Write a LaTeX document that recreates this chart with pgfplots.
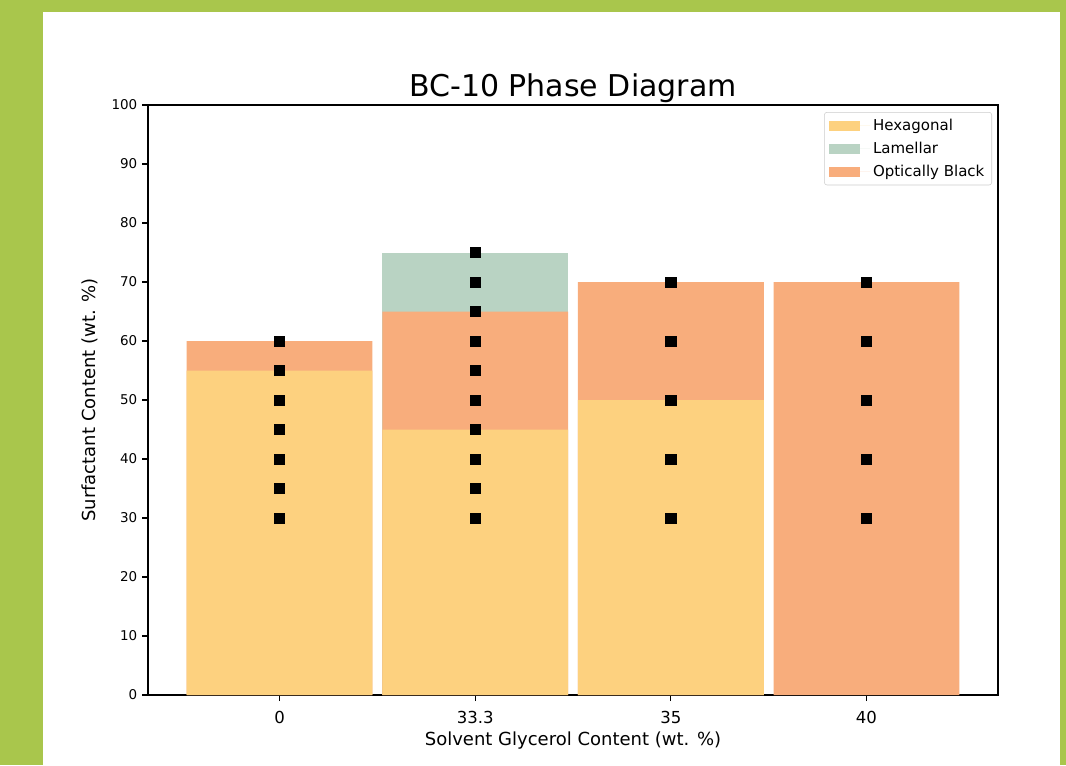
\documentclass[border=0pt]{standalone}
\usepackage{pgfplots}
\pgfplotsset{compat=1.18}
\usepackage{fontspec}
\setmainfont{DejaVu Sans}
\definecolor{bggreen}{RGB}{169,198,76}
\definecolor{hexcol}{RGB}{253,209,127}
\definecolor{lamcol}{RGB}{185,211,195}
\definecolor{obcol}{RGB}{248,173,124}
\begin{document}
\begin{tikzpicture}
\useasboundingbox (0,0) rectangle (799.5pt,573.75pt);
\fill[bggreen] (0,0) rectangle (799.5pt,573.75pt);
\fill[white] (32.25pt,0) rectangle (795pt,564.75pt);
\begin{axis}[
  at={(111pt,52.5pt)}, anchor=south west,
  scale only axis, width=637.5pt, height=442.5pt,
  xmin=-0.6725, xmax=3.6725, ymin=0, ymax=100,
  xtick={0,1,2,3}, xticklabels={0,33.3,35,40},
  ytick={0,10,...,100},
  tick align=outside, xtick pos=bottom, ytick pos=left,
  major tick length=4.5pt,
  every tick/.style={black, line width=0.8pt},
  axis line style={line width=0.8pt},
  /pgf/number format/assume math mode=true,
  xticklabel style={font=\fontsize{12.4}{14}\selectfont, yshift=-4.5pt},
  yticklabel style={font=\fontsize{10.1}{12}\selectfont},
  title={BC-10 Phase Diagram},
  title style={at={(axis description cs:0.5,1)}, anchor=base, yshift=0.75pt, font=\fontsize{22.5}{27}\selectfont},
  xlabel={Solvent Glycerol Content (wt. \%)},
  ylabel={Surfactant Content (wt. \%)},
  xlabel style={at={(axis description cs:0.5,-0.078)}, anchor=center, font=\fontsize{13.5}{16}\selectfont},
  ylabel style={at={(axis description cs:-0.0682,0.5)}, anchor=center, font=\fontsize{13.5}{16}\selectfont},
  legend style={at={(1,1)}, xshift=-4.5pt, yshift=-5.25pt, anchor=north east,
    font=\fontsize{11.25}{13}\selectfont, draw=black!20, rounded corners=2pt,
    cells={anchor=west}, row sep=3.2pt, inner xsep=3.5pt, inner ysep=3pt},
  legend image code/.code={\path[draw=none, sharp corners] (0pt,0pt) -- (31pt,0pt);
    \fill[#1, draw=none, sharp corners] (0pt,-3.75pt) rectangle (23.25pt,3.75pt);},
]
\addplot[ybar, bar width=0.95, bar shift=0pt, fill=lamcol, draw=none, forget plot] coordinates {(1,75)};
\addplot[ybar, bar width=0.95, bar shift=0pt, fill=obcol, draw=none, forget plot] coordinates {(0,60) (1,65) (2,70) (3,70)};
\addplot[ybar, bar width=0.95, bar shift=0pt, fill=hexcol, draw=none, forget plot] coordinates {(0,55) (1,45) (2,50)};
\addplot[only marks, mark=square*, mark size=3.9pt, draw=black, fill=black, forget plot] coordinates {
 (0,30) (0,35) (0,40) (0,45) (0,50) (0,55) (0,60)
 (1,30) (1,35) (1,40) (1,45) (1,50) (1,55) (1,60) (1,65) (1,70) (1,75)
 (2,30) (2,40) (2,50) (2,60) (2,70)
 (3,30) (3,40) (3,50) (3,60) (3,70)};
\addlegendimage{fill=hexcol, draw=none}
\addlegendentry{Hexagonal}
\addlegendimage{fill=lamcol, draw=none}
\addlegendentry{Lamellar}
\addlegendimage{fill=obcol, draw=none}
\addlegendentry{Optically Black}
\end{axis}
\end{tikzpicture}
\end{document}
